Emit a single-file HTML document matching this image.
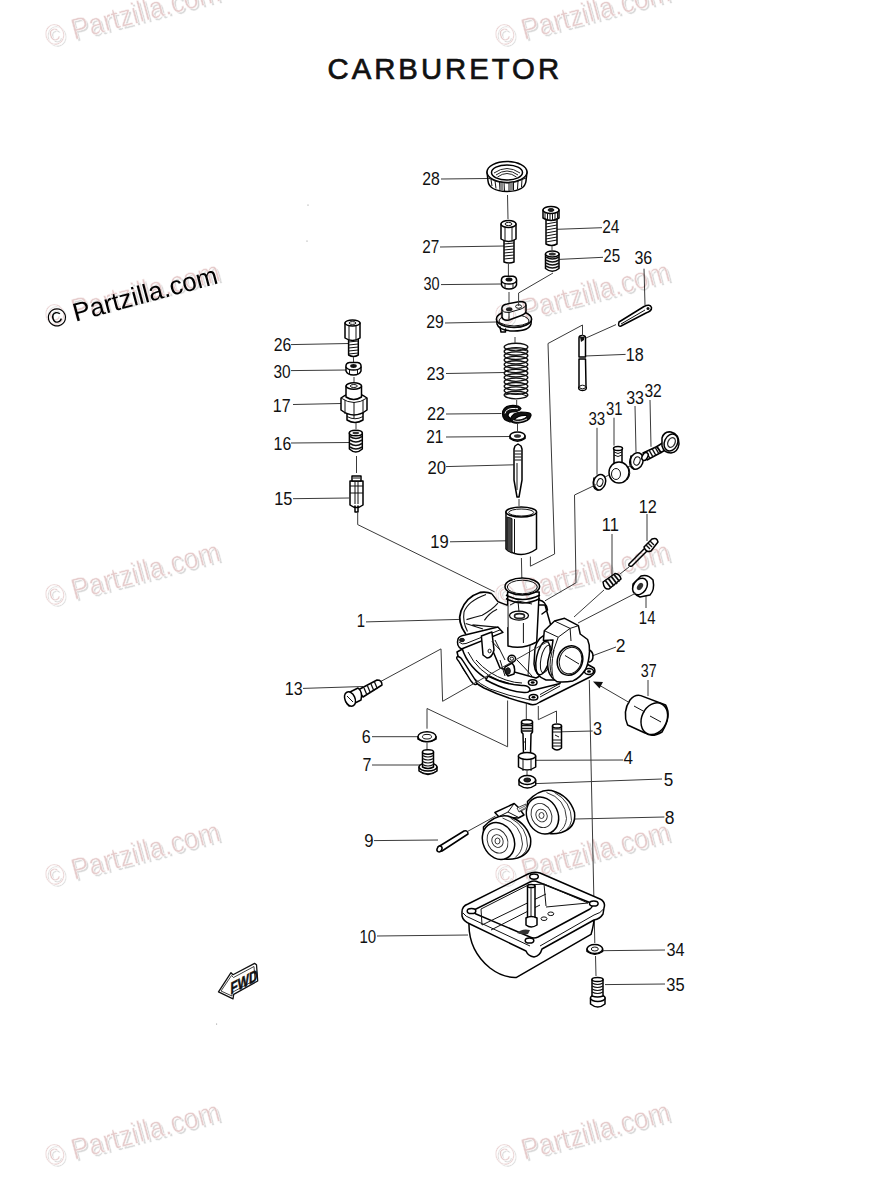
<!DOCTYPE html>
<html><head><meta charset="utf-8">
<style>
html,body{margin:0;padding:0;background:#fff;}
body{width:869px;height:1200px;overflow:hidden;position:relative;}
svg{position:absolute;left:0;top:0;}
.wm text{font-family:"Liberation Sans",sans-serif;font-size:26px;}
.lb{font-family:"Liberation Sans",sans-serif;font-size:17.5px;fill:#111;}
.ld{stroke:#3a3a3a;stroke-width:1;fill:none;}
.p{stroke:#000;stroke-width:1.5;fill:#fff;stroke-linejoin:round;stroke-linecap:round;}
.pn{stroke:#000;stroke-width:1.5;fill:none;stroke-linejoin:round;stroke-linecap:round;}
.th{stroke:#111;stroke-width:1;fill:none;}
.dk{fill:#222;stroke:#111;stroke-width:1;}
</style></head>
<body>
<svg width="869" height="1200" viewBox="0 0 869 1200">
<defs>
<g id="wmt">
<text x="1.8" y="2.6" fill="#dadada" stroke="#fff" stroke-width="0.45" font-family="Liberation Sans" font-size="30" transform="rotate(-15) scale(0.89,1)">© Partzilla.com</text>
<text x="0" y="0" fill="#e6cccc" stroke="#fff" stroke-width="0.45" font-family="Liberation Sans" font-size="30" transform="rotate(-15) scale(0.89,1)">© Partzilla.com</text>
</g>
</defs>
<!-- title -->
<text x="327.5" y="79.2" font-family="Liberation Sans" font-size="29.3" fill="#111" stroke="#111" stroke-width="0.7" letter-spacing="3">CARBURETOR</text>

<g id="labels" class="lb">
<text transform="translate(422.31,184.70) scale(0.904,1)">28</text>
<text transform="translate(422.23,253.30) scale(0.876,1)">27</text>
<text transform="translate(423.45,289.70) scale(0.829,1)">30</text>
<text transform="translate(426.21,328.30) scale(0.902,1)">29</text>
<text transform="translate(602.22,232.70) scale(0.886,1)">24</text>
<text transform="translate(603.24,261.70) scale(0.864,1)">25</text>
<text transform="translate(634.39,263.70) scale(0.916,1)">36</text>
<text transform="translate(625.77,360.50) scale(0.922,1)">18</text>
<text transform="translate(588.42,425.00) scale(0.866,1)">33</text>
<text transform="translate(606.04,414.90) scale(0.848,1)">31</text>
<text transform="translate(626.19,403.50) scale(0.916,1)">33</text>
<text transform="translate(644.41,396.70) scale(0.894,1)">32</text>
<text transform="translate(273.71,350.70) scale(0.905,1)">26</text>
<text transform="translate(273.41,378.40) scale(0.884,1)">30</text>
<text transform="translate(272.78,411.70) scale(0.917,1)">17</text>
<text transform="translate(273.59,449.60) scale(0.911,1)">16</text>
<text transform="translate(274.25,505.30) scale(0.938,1)">15</text>
<text transform="translate(427.57,474.20) scale(0.951,1)">20</text>
<text transform="translate(430.34,548.40) scale(0.949,1)">19</text>
<text transform="translate(426.48,380.00) scale(0.938,1)">23</text>
<text transform="translate(426.88,419.90) scale(0.933,1)">22</text>
<text transform="translate(426.23,442.50) scale(0.881,1)">21</text>
<text transform="translate(638.77,512.90) scale(0.928,1)">12</text>
<text transform="translate(601.75,531.30) scale(0.940,1)">11</text>
<text transform="translate(638.87,623.70) scale(0.852,1)">14</text>
<text transform="translate(615.83,651.70) scale(1.000,1)">2</text>
<text transform="translate(640.86,676.50) scale(0.816,1)">37</text>
<text transform="translate(284.77,694.70) scale(0.923,1)">13</text>
<text transform="translate(361.78,743.30) scale(0.919,1)">6</text>
<text transform="translate(362.58,770.70) scale(0.919,1)">7</text>
<text transform="translate(592.98,734.90) scale(0.930,1)">3</text>
<text transform="translate(623.41,764.30) scale(0.977,1)">4</text>
<text transform="translate(663.72,785.60) scale(0.979,1)">5</text>
<text transform="translate(664.65,823.60) scale(0.999,1)">8</text>
<text transform="translate(364.21,847.00) scale(0.954,1)">9</text>
<text transform="translate(359.46,943.00) scale(0.861,1)">10</text>
<text transform="translate(666.38,956.20) scale(0.930,1)">34</text>
<text transform="translate(666.37,990.50) scale(0.942,1)">35</text>
<text transform="translate(356.67,627.30) scale(0.850,1)">1</text>

</g>
<g id="leaders" class="ld">
<line x1="441" y1="179" x2="487" y2="178.5"/>
<line x1="440" y1="247" x2="504" y2="246"/>
<line x1="441" y1="284.6" x2="501" y2="284"/>
<line x1="445" y1="323" x2="496" y2="322"/>
<line x1="557" y1="229.3" x2="602" y2="227.7"/>
<line x1="559" y1="259.4" x2="603" y2="257.3"/>
<line x1="644" y1="268.7" x2="645" y2="305"/>
<line x1="585" y1="356" x2="625.6" y2="354.4"/>
<line x1="597" y1="427.8" x2="597" y2="474.7"/>
<line x1="614" y1="417.7" x2="614" y2="445.6"/>
<line x1="635" y1="406" x2="636" y2="452"/>
<line x1="650" y1="400" x2="651" y2="446.8"/>
<line x1="291" y1="344.6" x2="348.6" y2="343.5"/>
<line x1="291" y1="370.6" x2="346" y2="370"/>
<line x1="293" y1="404.5" x2="341" y2="403.5"/>
<line x1="291" y1="443" x2="349" y2="442.5"/>
<line x1="293" y1="498.7" x2="349" y2="498"/>
<line x1="446" y1="466.6" x2="513.7" y2="464.8"/>
<line x1="450" y1="541.8" x2="505.8" y2="540.8"/>
<line x1="446" y1="373.5" x2="504.6" y2="372.5"/>
<line x1="446" y1="414" x2="501.4" y2="413.5"/>
<line x1="446" y1="437" x2="510" y2="436.5"/>
<line x1="647" y1="514" x2="647" y2="541"/>
<line x1="612" y1="534" x2="612" y2="575"/>
<line x1="646" y1="608" x2="646" y2="596"/>
<line x1="616" y1="647" x2="592" y2="656"/>
<line x1="648" y1="680" x2="648" y2="696"/>
<line x1="303" y1="688.4" x2="363" y2="686.5"/>
<line x1="372" y1="736.7" x2="418" y2="736.7"/>
<line x1="372" y1="765" x2="420" y2="765"/>
<line x1="560.8" y1="731.8" x2="592.7" y2="731"/>
<line x1="535.7" y1="760.3" x2="623" y2="760"/>
<line x1="535.7" y1="783.6" x2="662" y2="779"/>
<line x1="575" y1="819" x2="664.4" y2="817"/>
<line x1="374" y1="840.6" x2="438" y2="840"/>
<line x1="377" y1="936" x2="468" y2="935"/>
<line x1="601.8" y1="950.7" x2="665" y2="950"/>
<line x1="605" y1="984.6" x2="665" y2="984"/>
<line x1="366" y1="621.9" x2="460" y2="619.4"/>
</g>
<g id="parts">
<!-- 01_top.svg -->
<!-- 28 ring nut -->
<g>
<path class="p" d="M487,172 L488,181 Q489,191 507,191.5 Q525,191 526,181 L527,172 Z"/>
<ellipse class="p" cx="507" cy="172" rx="20" ry="10.5"/>
<ellipse class="pn" cx="507" cy="172.5" rx="15.5" ry="7.5"/>
<path d="M494,173 Q507,164 520,173 M496,175 Q507,167 518,175 M497.5,177 Q507,170 516.5,177" stroke="#222" stroke-width="1" fill="none"/>
<path class="th" d="M488,178 Q507,188 526,178"/>
<path class="th" d="M491,179.5 L492,186 M495,181 L496,188.5 M499.5,182 L500,190 M504,182.5 L504.5,191 M509,182.5 L509,191 M513.5,182 L513.5,190 M518,181 L517.5,189 M522,179.5 L521.5,187"/>
<path d="M500,183 L503,183 L503.5,191 L500,190 Z M510,183 L513,182.5 L513,190.5 L510,191 Z" fill="#888"/>
</g>
<line class="ld" x1="507.5" y1="195" x2="508" y2="219"/>
<!-- 27 -->
<g>
<path class="p" d="M504,240 L504,262 Q509,264 514,262 L514,240 Z"/>
<path class="th" d="M504,244 L514,243 M504,247 L514,246 M504,250 L514,249 M504,253 L514,252 M504,256 L514,255 M504,259 L514,258"/>
<path class="p" d="M501,224 L501,239 Q508.5,244 516,239 L516,224 Z"/>
<ellipse class="p" cx="508.5" cy="224" rx="7.5" ry="3.5"/>
<ellipse class="th" cx="508.5" cy="224" rx="3.5" ry="1.6"/>
<path class="th" d="M505,226.5 L505,241.5 M512,226.5 L512,241.5"/>
</g>
<line class="ld" x1="508.4" y1="264" x2="508.4" y2="277"/>
<!-- 30a nut -->
<g>
<path class="p" d="M501.5,281 L501.5,285 Q503,289 509,289 Q515,289 516.5,285 L516.5,281 Z"/>
<path class="p" d="M501.5,281 Q501,277 505,276.2 L513,276.2 Q517,277 516.5,281 Q515,284 509,284 Q503,284 501.5,281 Z"/>
<ellipse cx="509" cy="279.5" rx="3.5" ry="2" fill="#111"/>
<path class="th" d="M505,284 L505,289 M513,284 L513,289"/>
</g>
<line class="ld" x1="509" y1="292" x2="509" y2="308"/>
<!-- 29 -->
<g>
<path class="p" d="M496.5,319 L497,324 Q499,331 514,331 Q529,331 531,324 L531.5,319 Z"/>
<path class="pn" d="M500,327 L501,332 L505.5,332 L505.5,329"/>
<ellipse class="p" cx="514" cy="319" rx="17.5" ry="8.5"/>
<ellipse class="th" cx="514" cy="321" rx="15" ry="6.3"/>
<path class="th" d="M497.5,322 Q514,330 530.5,322"/>
<path class="p" d="M502,310 Q501,305 507,304 L520,301.5 Q526,301.5 526,305 L526,311 Q526,314 520,316 L509,320 Q503,321 502,317 Z"/>
<path class="th" d="M502,310 Q504,313 509,312.5 L521,309 Q526,307 526,305 M509,312.5 L509,320"/>
<ellipse cx="509.2" cy="309.3" rx="3.2" ry="2" fill="#222"/>
<ellipse class="th" cx="518.6" cy="306.5" rx="3" ry="1.8"/>
</g>
<polyline class="ld" points="518.6,306 518.6,293 553,273"/>
<!-- 24 bolt -->
<g>
<path class="p" d="M546,219 L546,244 Q551.5,247 557,244 L557,219 Z"/>
<path class="th" d="M546,224 L557,222 M546,227 L557,225 M546,230 L557,228 M546,233 L557,231 M546,236 L557,234 M546,239 L557,237 M546,242 L557,240"/>
<path class="p" d="M543,210 L543,218 Q551,223 559,218 L559,210 Z"/>
<ellipse class="p" cx="551" cy="210" rx="8" ry="3.5"/>
<ellipse class="dk" cx="551" cy="210" rx="3" ry="1.4"/>
<path class="th" d="M545,212 L545,219.5 M547.5,213 L547.5,220.5 M550,213.5 L550,221 M552.5,213.5 L552.5,221 M555,213 L555,220.5 M557.5,212 L557.5,219.5"/>
</g>
<line class="ld" x1="552" y1="246" x2="552" y2="250"/>
<!-- 25 spring -->
<g>
<path class="p" d="M545.5,254 L545.5,268.5 Q552.3,274 559,268.5 L559,254 Z"/>
<ellipse class="p" cx="552.3" cy="254" rx="6.8" ry="3"/>
<path d="M546,257 Q552.3,261 559,257 M546,260 Q552.3,264 559,260 M546,263 Q552.3,267 559,263 M546,266 Q552.3,270 559,266" stroke="#111" stroke-width="1.6" fill="none"/>
<ellipse cx="552.3" cy="254" rx="3.5" ry="1.5" fill="#333"/>
</g>

<!-- 02_mid.svg -->
<!-- 36 cotter pin -->
<g>
<path class="p" d="M619,322 L644,306.5 Q650,303.5 651.5,307.5 Q652,311 646,313 L621,326 Q617.5,327 619,322 Z"/>
<path class="th" d="M621,324 L645,310"/>
<circle cx="648" cy="308.5" r="1.5" fill="#111"/>
</g>
<line class="ld" x1="616" y1="324.6" x2="586" y2="338"/>
<!-- 18 pin -->
<g>
<path class="p" d="M579,338 Q579,335.5 582.3,335.5 Q585.5,335.5 585.5,338 L585.5,357 L579,357 Z"/>
<path class="p" d="M579,359 L585.5,359 L586,386 Q587.5,390.5 582.5,390.5 Q577.5,390.5 579,386 Z"/>
<path d="M580,337 L584.5,337 L584,340 L581,342 Z" fill="#111"/>
<ellipse class="th" cx="582.5" cy="387" rx="3" ry="1.8"/>
</g>
<polyline class="ld" points="582.5,336 582.5,325 548,343.5 554.6,554 530.4,566.2 530.4,556.6"/>
<!-- 23 spring -->
<g>
<path d="M504.5,347 L504.5,395 Q516,402 527.5,395 L527.5,347 Z" fill="#fff"/>
<ellipse cx="516" cy="347.0" rx="11.8" ry="3.8" fill="none" stroke="#111" stroke-width="1.35"/>
<ellipse cx="516" cy="351.4" rx="11.8" ry="3.8" fill="none" stroke="#111" stroke-width="1.35"/>
<ellipse cx="516" cy="355.7" rx="11.8" ry="3.8" fill="none" stroke="#111" stroke-width="1.35"/>
<ellipse cx="516" cy="360.1" rx="11.8" ry="3.8" fill="none" stroke="#111" stroke-width="1.35"/>
<ellipse cx="516" cy="364.5" rx="11.8" ry="3.8" fill="none" stroke="#111" stroke-width="1.35"/>
<ellipse cx="516" cy="368.8" rx="11.8" ry="3.8" fill="none" stroke="#111" stroke-width="1.35"/>
<ellipse cx="516" cy="373.2" rx="11.8" ry="3.8" fill="none" stroke="#111" stroke-width="1.35"/>
<ellipse cx="516" cy="377.5" rx="11.8" ry="3.8" fill="none" stroke="#111" stroke-width="1.35"/>
<ellipse cx="516" cy="381.9" rx="11.8" ry="3.8" fill="none" stroke="#111" stroke-width="1.35"/>
<ellipse cx="516" cy="386.3" rx="11.8" ry="3.8" fill="none" stroke="#111" stroke-width="1.35"/>
<ellipse cx="516" cy="390.6" rx="11.8" ry="3.8" fill="none" stroke="#111" stroke-width="1.35"/>
<ellipse cx="516" cy="395.0" rx="11.8" ry="3.8" fill="none" stroke="#111" stroke-width="1.35"/>
<path d="M505,350 Q516,347 527,351 M505,395 Q516,391 527,396" stroke="#111" stroke-width="1" fill="none"/>
</g>
<line class="ld" x1="515" y1="337" x2="515" y2="343"/>
<line class="ld" x1="516.7" y1="400" x2="516.7" y2="405"/>
<!-- 22 clip -->
<g>
<path d="M502.5,414 Q502.5,406.5 511,405.5 Q519,405 521,408.5 Q519,412 512,412 Q508,412.5 508,415.5 Q509,418.5 513.5,419.5 L511.5,422 Q502.5,421 502.5,414 Z" fill="#111" stroke="#000" stroke-width="1.2" stroke-linejoin="round"/>
<path d="M505,413.5 Q506,409 512,408.5 Q516,408.3 518,408.8" stroke="#fff" stroke-width="1" fill="none"/>
<path d="M510.5,419 Q512.5,412.5 521,412 Q531.5,412 531,415.5 Q529.5,421.5 519,423 Q510.5,424 510.5,419 Z M514.5,419.5 Q519,421 524.5,418.5 Q528,416.5 526.5,415.5 Q518,415 514.5,419.5 Z" fill="#111" fill-rule="evenodd" stroke="#000" stroke-width="1.2"/>
<path d="M513,420.5 Q519,423 527,419" stroke="#fff" stroke-width="0.8" fill="none"/>
</g>
<line class="ld" x1="517.5" y1="424" x2="517.5" y2="431"/>
<!-- 21 washer -->
<g>
<path class="p" d="M510,436 L510,438.5 Q517.5,444 525,438.5 L525,436 Z"/>
<ellipse class="p" cx="517.5" cy="436" rx="7.5" ry="4"/>
<ellipse cx="517.5" cy="436" rx="3.5" ry="1.8" fill="#333"/>
</g>
<!-- 20 needle -->
<g>
<path class="p" d="M514,449 L515,446 L518,444 L521,446 L522,449 L522,480 L519,497 L517,497 L514,480 Z"/>
<path class="th" d="M514.5,451 L521.5,451 M514.5,454 L521.5,454 M514.5,457 L521.5,457 M514.5,460 L521.5,460"/>
<path class="th" d="M517,463 L517,490"/>
</g>
<line class="ld" x1="519" y1="499" x2="519" y2="506"/>
<!-- 19 slide -->
<g>
<path class="p" d="M506,512 L506,549 Q521,560 536.5,549 L536.5,512 Z"/>
<ellipse class="p" cx="521.2" cy="512" rx="15.3" ry="5"/>
<ellipse class="th" cx="521.2" cy="512.5" rx="12.5" ry="3.5"/>
<path d="M507,517 L512,518.5 L512,553 L507,550.5 Z" fill="#444" stroke="#111" stroke-width="1"/>
<path class="th" d="M514.5,519 L514.5,554"/>
</g>
<line class="ld" x1="521.4" y1="558" x2="522" y2="586"/>

<!-- 03_left.svg -->
<!-- 26 -->
<g>
<path class="p" d="M348.6,338 L348.6,355 Q353.5,358 358.3,355 L358.3,338 Z"/>
<path class="th" d="M348.6,342 L358.3,341 M348.6,345 L358.3,344 M348.6,348 L358.3,347 M348.6,351 L358.3,350 M348.6,354 L358.3,353"/>
<path class="p" d="M345,323 L345,338 Q352.5,343 360,338 L360,323 Z"/>
<ellipse class="p" cx="352.5" cy="323" rx="7.5" ry="3"/>
<ellipse class="th" cx="352.5" cy="323" rx="3.5" ry="1.4"/>
<path class="th" d="M349,325.5 L349,340.5 M356,325.5 L356,340.5"/>
</g>
<line class="ld" x1="353.4" y1="357" x2="353.6" y2="362"/>
<!-- 30b nut -->
<g>
<path class="p" d="M346,367 L346,371 Q347.5,375 353.5,375 Q359.5,375 361,371 L361,367 Z"/>
<path class="p" d="M346,367 Q345.5,363 349.5,362.5 L357.5,362.5 Q361.5,363 361,367 Q359.5,370 353.5,370 Q347.5,370 346,367 Z"/>
<ellipse cx="353.5" cy="366" rx="3.3" ry="1.9" fill="#111"/>
<path class="th" d="M349.5,370 L349.5,375 M357.5,370 L357.5,375"/>
</g>
<line class="ld" x1="354" y1="377" x2="354" y2="382"/>
<!-- 17 -->
<g>
<path class="p" d="M347,413 L347,420 Q355,425 363,420 L363,413 Z"/>
<path class="th" d="M347,416.5 Q355,421 363,416.5"/>
<path class="p" d="M341,398 L341,410 Q354,420 367,410 L367,398 Q354,388 341,398 Z"/>
<path class="th" d="M345,400 L345,414 M354,402 L354,418 M363,400 L363,414 M341,398 Q354,407 367,398"/>
<path class="p" d="M346,386 L346,397 Q353.8,402 361.5,397 L361.5,386 Z"/>
<ellipse class="p" cx="353.8" cy="386" rx="7.7" ry="3.2"/>
<ellipse class="th" cx="353.8" cy="386" rx="3.5" ry="1.5"/>
</g>
<line class="ld" x1="356" y1="423" x2="356" y2="429"/>
<!-- 16 spring -->
<g>
<path class="p" d="M349.4,433 L349.4,449 Q355.8,455 362.3,449 L362.3,433 Z"/>
<ellipse class="p" cx="355.8" cy="433" rx="6.5" ry="2.8"/>
<path d="M350,436.5 Q355.8,440.5 362,436.5 M350,440 Q355.8,444 362,440 M350,443.5 Q355.8,447.5 362,443.5 M350,447 Q355.8,451 362,447" stroke="#111" stroke-width="1.6" fill="none"/>
<ellipse cx="355.8" cy="433" rx="3.3" ry="1.3" fill="#333"/>
</g>
<line class="ld" x1="356.5" y1="456" x2="356.5" y2="473"/>
<!-- 15 float needle -->
<g>
<path class="p" d="M350,481 L350,505 Q356.5,510 363,505 L363,481 Z"/>
<path class="p" d="M352,476 L352,481 L361,481 L361,476 Z"/>
<path class="th" d="M353,478 L360,478 M350,486 L363,486 M350,493 L363,493 M355,482 L355,504 M358,482 L358,504"/>
<path class="pn" d="M355,506 L355,512 L358,512 L358,506"/>
</g>
<polyline class="ld" points="357.7,513 357.7,524.6 494.7,591.9"/>

<!-- 04_right.svg -->
<!-- 33a washer -->
<g>
<ellipse class="p" cx="599.5" cy="482.3" rx="6" ry="8" transform="rotate(20 599.5 482.3)"/>
<ellipse class="th" cx="600" cy="482.5" rx="2.8" ry="4" transform="rotate(20 600 482.5)"/>
<path class="pn" d="M594,478 Q592,486 598,490" stroke-width="2"/>
</g>
<polyline class="ld" points="596,484.7 574.5,495 576,582.8 545,600.8"/>
<!-- 31 banjo -->
<g>
<path class="p" d="M614,449 L614,463 Q618,468 622,463 L622,449 Z"/>
<path class="th" d="M614,452 Q618,455 622,452 M614,455 Q618,458 622,455"/>
<ellipse class="p" cx="618" cy="448.5" rx="4.5" ry="2"/>
<ellipse class="p" cx="619" cy="472.5" rx="10" ry="10.5"/>
<ellipse class="th" cx="616" cy="474" rx="4.5" ry="5.5"/>
<path class="th" d="M628,466 Q632,474 627,480"/>
</g>
<line class="ld" x1="605" y1="477" x2="609" y2="475"/>
<!-- 33b washer -->
<g>
<ellipse class="p" cx="636.5" cy="461" rx="6.5" ry="8.5" transform="rotate(20 636.5 461)"/>
<ellipse class="th" cx="637" cy="461" rx="3" ry="4.2" transform="rotate(20 637 461)"/>
<path class="pn" d="M631,456 Q629,465 634,469" stroke-width="2"/>
</g>
<line class="ld" x1="628" y1="467" x2="632" y2="465"/>
<!-- 32 bolt -->
<g>
<path class="p" d="M643,453 L657,446.5 L661,452.5 L647,460 Z"/>
<path d="M646,451.5 L650,458.5 M649,450 L653,457 M652,448.5 L656,455.5 M655,447 L659,454" stroke="#111" stroke-width="1.5"/>
<ellipse class="p" cx="645" cy="456.5" rx="2.6" ry="4.2" transform="rotate(30 645 456.5)"/>
<path class="p" d="M657,446.5 L664,442 L667,449 L661,452.5 Z"/>
<path class="p" d="M662,438 Q664,431 671,432 Q679,434 679,444 Q678,452 671,453 Q664,453 662,446 Z"/>
<ellipse class="p" cx="671" cy="442.5" rx="6.5" ry="8.8" transform="rotate(25 671 442.5)"/>
<ellipse cx="671.5" cy="442.5" rx="3.5" ry="5" transform="rotate(25 671.5 442.5)" fill="none" stroke="#333" stroke-width="1.4"/>
</g>
<!-- 12 screw -->
<g>
<path class="p" d="M629,564 L645,548 L648,550 L632,566 Q628,567 629,564 Z"/>
<path class="p" d="M644,547 L652,539 Q657,537 658,542 L651,551 Q646,553 644,547 Z"/>
<path d="M646,545 L650,549 M648,543 L652,547 M650,541 L654,545" stroke="#111" stroke-width="1.4"/>
</g>
<line class="ld" x1="629" y1="567" x2="620" y2="574"/>
<!-- 11 spring -->
<g>
<path class="p" d="M603,582 L615,573.5 Q620,574 621,579 L609,589 Q604,590 603,582 Z"/>
<path d="M605,580 L611,588 M608,578 L614,586 M611,576 L617,584 M614,574.5 L619.5,581.5" stroke="#111" stroke-width="1.8"/>
</g>
<line class="ld" x1="604" y1="590" x2="574" y2="617"/>
<!-- 14 cap -->
<g>
<path class="p" d="M633,584 Q632,594 640,597 L650,595 Q655,590 653,580 Q648,574 641,576 Z"/>
<ellipse class="p" cx="640" cy="586.5" rx="6.5" ry="9" transform="rotate(35 640 586.5)"/>
<ellipse cx="640" cy="586.5" rx="2.5" ry="4" transform="rotate(35 640 586.5)" fill="#333"/>
</g>
<line class="ld" x1="636" y1="593" x2="578" y2="623"/>
<!-- 37 -->
<g>
<path class="p" d="M640.8,695.6 L665.6,705 Q672,716 662,732 Q652,738 645,733 L627.6,725 Q622,712 630,700 Q635,694 640.8,695.6 Z"/>
<ellipse class="p" cx="654.3" cy="718.7" rx="12.5" ry="16.5" transform="rotate(25 654.3 718.7)"/>
<path class="th" d="M634,706 L645,712 M650,716 L661,722"/>
</g>
<line class="ld" x1="629.7" y1="702.8" x2="600" y2="685.6"/>
<path d="M593,681.4 L603,682 L599.5,688.5 Z" fill="#111"/>

<!-- 05_body.svg -->
<!-- carb body -->
<g>
<!-- flange plate -->
<path class="p" d="M457,652 Q462,676 484,688 Q505,698 528,703.5 Q534,706.5 540,702 L590,677 Q597,673 594,668 L585,663 L570,640 L540,628 L470,645 Z"/>
<path class="th" d="M462,660 Q470,680 490,689 Q508,696 530,700 M540,697 L560,686"/>
<path d="M458.5,661 Q455,657 458,656.5 Q461,657 463,661 L476,681 Q478,685 475,684.5 Q473,684 471,681 Z" fill="#fff" stroke="#000" stroke-width="1.4"/>
<ellipse class="p" cx="533.5" cy="697.3" rx="4.3" ry="2.8"/>
<ellipse cx="533.5" cy="697.3" rx="2" ry="1.3" fill="#000"/>
<ellipse class="p" cx="589" cy="671.5" rx="4.5" ry="3"/>
<ellipse cx="589" cy="671.5" rx="2" ry="1.3" fill="#000"/>
<!-- float chamber dome -->
<path class="p" d="M462,648 Q468,668 490,681 Q510,690 526,692 L560,683.5 L565,640 L530,620 L470,640 Z"/>
<path class="th" d="M468,652 Q478,672 498,680 Q512,685 524,686 M476,660 Q488,674 506,680 Q515,683 522,683"/>
<path class="p" d="M488,676 Q506,685 522,685.5 Q528,685 530,689 Q530,693 524,692.5 Q506,691 486,680 Z"/>
<ellipse class="p" cx="532.7" cy="682.5" rx="4.3" ry="2.8"/>
<ellipse cx="532.7" cy="682.5" rx="2" ry="1.3" fill="#000"/>
<path class="th" d="M540,694.6 L560,683.5"/>
<!-- mixing body center -->
<path class="p" d="M485,632 L507,605 L545,605 L555,640 L548,672 L536,678 L500,668 Z"/>
<path class="th" d="M495,640 L505,660 M530,645 L528,676 M517,660 Q525,668 532,676 M540,655 L541,672 M500,660 L505,676"/>
<!-- bosses -->
<ellipse class="p" cx="511.8" cy="658.7" rx="3.8" ry="3.5"/>
<ellipse class="th" cx="511.8" cy="658.7" rx="1.8" ry="1.6"/>
<path class="p" d="M505,667 L512,663 Q516,667 514,674 L508,676 Q504,672 505,667 Z"/>
<ellipse class="dk" cx="508" cy="671" rx="2.3" ry="3.3"/>
<!-- slide bore cylinder -->
<path class="p" d="M507.6,592 L508,646 Q522,650 536.7,642 L539.2,592 Z"/>
<path d="M506,595 Q522,604 540,595 M506,598.5 Q522,607.5 540,598.5" stroke="#000" stroke-width="1.5" fill="none"/>
<ellipse class="p" cx="522.3" cy="586.5" rx="17.3" ry="8.5"/>
<ellipse class="th" cx="522.3" cy="587" rx="15" ry="6.8"/>
<path class="th" d="M523.4,623 L523.4,643"/>
<ellipse cx="519" cy="615.6" rx="9.5" ry="4.5" fill="none" stroke="#000" stroke-width="1.3"/>
<ellipse cx="519.5" cy="616" rx="5" ry="2.4" fill="none" stroke="#222" stroke-width="1.6"/>
<path class="th" d="M510,605 L518,601 L532,604 M518,601 L519,612"/>
<path class="pn" d="M539,600 Q546,601 547.5,610 L542,614"/>
<!-- bell mouth -->
<path d="M465.7,634 Q457,622 461,611 Q466,597 480,592.5 Q487,591.5 491.9,593.8 L497.9,601.7 L507.6,605.4 L507.6,627 L497,632 L483,634 Z" fill="#fff" stroke="none"/>
<path d="M465.7,634 Q457,622 461,611 Q466,597 480,592.5 Q487,591.5 491.9,593.8" stroke="#000" stroke-width="1.8" fill="none"/>
<path d="M491.9,593.8 L497.9,601.7 L507.6,605.4" stroke="#000" stroke-width="1.4" fill="none"/>
<path d="M467.5,631.5 Q462.5,622 464,612 Q468,601 486,594.5" stroke="#111" stroke-width="1.1" fill="none"/>
<path d="M466.5,619.6 Q475,617 482.2,615.2 Q492,610 497.9,603.2 M484.4,620.4 Q489,613 497.1,609.2 M465.7,623.4 Q474,626 483,629 M472.4,624.9 L496.4,627.1" stroke="#111" stroke-width="1.1" fill="none"/>
<!-- left ear -->
<path class="p" d="M458,639 Q456,646 461.5,649 L503,632.4 L497.9,627.1 L465,635 Q459,636 458,639 Z"/>
<path class="th" d="M459,642 Q462,645 466,643.5 L501,629.5"/>
<ellipse class="dk" cx="462" cy="640" rx="2.4" ry="1.7"/>
<!-- ear support post -->
<path class="p" d="M481.4,636 L491.9,632 L494,650 Q492,658 487,658 L483,655 Z"/>
<path class="th" d="M491.9,641.3 L500,650"/>
<ellipse class="th" cx="489.6" cy="651" rx="1.6" ry="1.8"/>
<!-- throttle pipe -->
<path class="p" d="M535,648 Q538,636 548,634 L560,636 L556,680 L546,680 Q535,676 534,664 Z"/>
<ellipse class="pn" cx="543" cy="658" rx="6.5" ry="17" transform="rotate(12 543 658)"/>
<ellipse class="th" cx="546" cy="659" rx="5" ry="14" transform="rotate(12 546 659)"/>
<!-- clamp -->
<path class="p" d="M544.3,630.7 L554.5,621 L564.6,618.3 L578.4,625.7 L580.2,634 L587.6,639.5 Q590,645 589.5,651.4 Q589,662 585.8,669 Q580,678 572.9,680.9 Q565,682.5 557.2,681.8 Q551,678 549,672.6 Q547,665 548,660.6 Q549,654 551.7,649.6 L553,640 L543.4,640.4 Z"/>
<path class="th" d="M544.3,630.7 L558.2,637.2 L570.1,628.4 M558.2,637.2 L553,652 M554.5,621 L570.1,628.4 L571,641 M570.1,628.4 L578.4,625.7"/>
<path class="th" d="M552,676 Q548,665 552,652 M553.5,679 Q550,668 554,650"/>
<ellipse class="p" cx="570" cy="660.5" rx="12.5" ry="15" transform="rotate(20 570 660.5)"/>
<ellipse class="th" cx="570.5" cy="660.5" rx="11" ry="13.5" transform="rotate(20 570.5 660.5)"/>
<line class="th" x1="565" y1="655.5" x2="579" y2="664" stroke-width="1.4"/>
<path class="pn" d="M589.5,650 Q593,652 593,656 Q593,661 589.5,662"/>
</g>
<!-- lines through body -->
<line class="ld" x1="442.6" y1="701.3" x2="550.5" y2="640"/>
<polyline class="ld" points="380.7,681.5 441,648.9 442.6,701.3"/>
<polyline class="ld" points="427,728.7 427,708.5 507.6,746.8 507.6,700.5"/>
<polyline class="ld" points="538.3,706 538.3,719.7 556.5,711 556.5,723"/>
<line class="ld" x1="526.3" y1="704" x2="526.3" y2="719"/>
<line class="ld" x1="589.3" y1="680" x2="594.8" y2="943"/>

<!-- 06_lower.svg -->
<!-- 13 screw -->
<g>
<path class="p" d="M358,690 L377,680 Q382,680 382,685 L363,697 Z"/>
<path d="M364,688 L367,695 M367.5,686 L370.5,693 M371,684 L374,691 M374.5,682 L377.5,689" stroke="#111" stroke-width="1.3"/>
<path class="p" d="M346,694 Q344,702 349,706 L361,700 Q363,692 358,688 Z"/>
<ellipse class="p" cx="350" cy="699" rx="5" ry="7.5" transform="rotate(-25 350 699)"/>
<line class="th" x1="347" y1="696" x2="353" y2="702"/>
</g>
<!-- 6 washer -->
<g>
<path class="p" d="M418,736.7 L418,739 Q427,744 436,739 L436,736.7 Z"/>
<ellipse class="p" cx="427" cy="736.7" rx="9" ry="5"/>
<ellipse class="th" cx="427" cy="736.7" rx="4.5" ry="2.3"/>
</g>
<line class="ld" x1="427" y1="743" x2="427" y2="750"/>
<!-- 7 screw -->
<g>
<path class="p" d="M419,767 L419,771 Q428,778 437,771 L437,767 Z"/>
<ellipse class="p" cx="428" cy="767" rx="9" ry="4"/>
<path class="th" d="M420,771.5 Q428,776 436,771.5"/>
<path class="p" d="M422.5,752 L422.5,767 Q428,770 433.5,767 L433.5,752 Z"/>
<ellipse class="p" cx="428" cy="752" rx="5.5" ry="2.2"/>
<path d="M422.5,755.5 Q428,758.5 433.5,755.5 M422.5,758.5 Q428,761.5 433.5,758.5 M422.5,761.5 Q428,764.5 433.5,761.5 M422.5,764.5 Q428,767.5 433.5,764.5" stroke="#111" stroke-width="1.2" fill="none"/>
</g>
<!-- 3 pilot jet -->
<g>
<path class="p" d="M552.5,726 L552.5,748 Q557,752 561.5,748 L561.5,726 Z"/>
<ellipse class="p" cx="557" cy="726" rx="4.5" ry="2"/>
<path class="th" d="M553,729 L561,729 M553,732 L561,732 M553,740 L561,740 M553,743 L561,743 M553,746 L561,746 M555,735 L559,737"/>
</g>
<!-- 4 -->
<g>
<path class="p" d="M521.5,722 L521.5,732 L523,734 L523.5,754 L530.5,754 L531,734 L532.5,732 L532.5,722 Z"/>
<ellipse class="p" cx="527" cy="722" rx="5.5" ry="2.3"/>
<path d="M521.5,725.5 L532.5,725.5 M521.5,728.5 L532.5,728.5 M521.5,731 L532.5,731" stroke="#111" stroke-width="1.3"/>
<path class="th" d="M525.5,738 L525.5,750"/>
<circle cx="525" cy="742" r="0.8" fill="#111"/>
<path class="p" d="M518.5,756 L518.5,767 Q527,773 535.7,767 L535.7,756 Z"/>
<ellipse class="p" cx="527" cy="756" rx="8.6" ry="3.5"/>
<path class="th" d="M523,758.5 L523,771 M531,758.5 L531,771"/>
</g>
<line class="ld" x1="527" y1="771" x2="527" y2="776"/>
<!-- 5 nut -->
<g>
<path class="p" d="M519,780 L519,785 Q527.3,791 535.7,785 L535.7,780 Z"/>
<ellipse class="p" cx="527.3" cy="780" rx="8.3" ry="4.5"/>
<ellipse class="dk" cx="527.3" cy="780" rx="3.5" ry="2"/>
</g>
<!-- 8 floats -->
<g>
<path class="p" d="M527.5,801.5 Q539.5,788.5 551.5,790.5 Q569.5,795.5 574.5,812.5 Q576.5,827.5 561.5,832.5 Q553.5,834.5 549.5,833.5 Q529.5,832.5 527.5,815.5 Z"/>
<path d="M546.5,792.5 Q565.5,798.5 566.5,818.5 Q565.5,827.5 559.5,831.5" stroke="#222" stroke-width="0.9" fill="none"/>
<path d="M554.5,792.5 Q571.5,801.5 571.5,820.5 Q570.5,826.5 566.5,829.5" stroke="#222" stroke-width="0.9" fill="none"/>
<ellipse class="p" cx="542.5" cy="815.5" rx="15.5" ry="19" transform="rotate(-25 542.5 815.5)"/>
<ellipse cx="541.5" cy="815.5" rx="10" ry="12.5" transform="rotate(-25 541.5 815.5)" stroke="#222" stroke-width="0.9" fill="none"/>
<ellipse cx="541.5" cy="815.5" rx="5.5" ry="6.5" transform="rotate(-25 541.5 815.5)" stroke="#222" stroke-width="0.9" fill="none"/>
<ellipse cx="541.5" cy="815.5" rx="2.5" ry="3" stroke="#222" stroke-width="0.9" fill="none"/>

<path class="p" d="M494.9,812.5 L514.2,803.5 L519,808 L524,815 L518.3,818 L499,817 Z"/>
<path class="th" d="M500,816 L508,812 L518.3,817.3 M508,812 L514.2,803.5"/>
<path d="M517,808 L526,804 L527,808 L519,812 Z" fill="#fff" stroke="#111" stroke-width="0.8"/>
<path d="M519,809 L526,805.5 M519.5,811 L526.5,807" stroke="#111" stroke-width="0.6"/>
<path class="p" d="M483.5,827 Q495.5,814 507.5,816 Q525.5,821 530.5,838 Q532.5,853 517.5,858 Q509.5,860 505.5,859 Q485.5,858 483.5,841 Z"/>
<path d="M502.5,818 Q521.5,824 522.5,844 Q521.5,853 515.5,857" stroke="#222" stroke-width="0.9" fill="none"/>
<path d="M510.5,818 Q527.5,827 527.5,846 Q526.5,852 522.5,855" stroke="#222" stroke-width="0.9" fill="none"/>
<ellipse class="p" cx="498.5" cy="841" rx="15.5" ry="19" transform="rotate(-25 498.5 841)"/>
<ellipse cx="497.5" cy="841" rx="10" ry="12.5" transform="rotate(-25 497.5 841)" stroke="#222" stroke-width="0.9" fill="none"/>
<ellipse cx="497.5" cy="841" rx="5.5" ry="6.5" transform="rotate(-25 497.5 841)" stroke="#222" stroke-width="0.9" fill="none"/>
<ellipse cx="497.5" cy="841" rx="2.5" ry="3" stroke="#222" stroke-width="0.9" fill="none"/>

</g>
<!-- 9 pin -->
<g>
<path class="p" d="M438,847 L464,831 Q468,830 468,834 L442,851 Q437,852 438,847 Z"/>
<ellipse class="p" cx="439.5" cy="849" rx="2.3" ry="3" transform="rotate(30 439.5 849)"/>
</g>
<line class="ld" x1="467.6" y1="831.4" x2="495.6" y2="816"/>
<!-- 10 bowl -->
<g>
<path class="p" d="M469,922 Q468,950 490,968 Q503,978 516.5,977.4 L591,934.4 Q594,925 594.8,912 L540,890 Z"/>
<path class="p" d="M462,912 Q462,906 468,904 L528,874 Q534,871 540,873 L600,899 Q606,902 604,908 L603,914 Q600,919 594,920 L542,949 Q540,956 534,957 Q528,956 526,951 L470,924 Q463,921 462,916 Z"/>
<path class="th" d="M463,913 Q466,917 470,918 L530,946 M540,946 L594,915 Q601,913 603.5,909"/>
<path class="pn" d="M474,910 L530,882 Q534,880 538,882 L591,903 Q594,906 590,909 L538,937 Q534,939 530,937 L476,914 Q471,912 474,910 Z"/>
<path class="th" d="M481,909 L528.3,885 L544,884 L588,903 M481,909 L482,925 M528.3,885 L530,897 M544,884 L546,906 M482,925 L546,894"/>
<path class="th" d="M491,930 L540,905 M546,907 L588,903"/>
<ellipse class="p" cx="471.5" cy="911" rx="4.3" ry="2.6"/>
<ellipse class="p" cx="534" cy="876.6" rx="4.3" ry="2.6"/>
<ellipse class="p" cx="593.8" cy="903.5" rx="4.3" ry="2.6"/>
<ellipse class="p" cx="529.5" cy="940.5" rx="4.3" ry="2.6"/>
<path class="p" d="M527.5,886 L527.5,920 L535,920 L535,886 Z"/>
<ellipse class="p" cx="531.2" cy="886" rx="3.7" ry="1.6"/>
<path class="th" d="M531,888 L531,918"/>
<path class="p" d="M526,918 L526,925 Q531,929 537,925 L537,918 Q531,915 526,918 Z"/>
<ellipse class="th" cx="550.8" cy="913.8" rx="3" ry="1.8"/>
<ellipse class="th" cx="544" cy="918.7" rx="3" ry="1.8"/>
<path d="M517,933 Q522,928 530,930 L528,934 Q522,935 517,933 Z" fill="#333"/>
</g>
<!-- 34 washer -->
<g>
<path class="p" d="M587,949 L587,951.5 Q594.8,957 602.6,951.5 L602.6,949 Z"/>
<ellipse class="p" cx="594.8" cy="949" rx="7.8" ry="4.5"/>
<ellipse class="th" cx="594.8" cy="949" rx="3.5" ry="2"/>
</g>
<line class="ld" x1="595.5" y1="956" x2="596" y2="976"/>
<!-- 35 screw -->
<g>
<path class="p" d="M590.5,998 L590.5,1004 Q597.8,1010 605,1004 L605,998 Z"/>
<ellipse class="p" cx="597.8" cy="998" rx="7.3" ry="3.5"/>
<path class="p" d="M592,979.5 L592,996 Q597.5,998 603,996 L603,979.5 Z"/>
<ellipse class="p" cx="597.5" cy="979.5" rx="5.5" ry="2"/>
<path d="M592,983 Q597.5,986 603,983 M592,986 Q597.5,989 603,986 M592,989 Q597.5,992 603,989 M592,992 Q597.5,995 603,992" stroke="#111" stroke-width="1.2" fill="none"/>
</g>
<!-- FWD -->
<g>
<path d="M218.5,991.9 L231,972.7 L233,974.8 L254.6,963.4 L256.5,964.7 L257.7,981 L233.7,994.4 L233,998.9 Z" fill="#fff" stroke="#111" stroke-width="1.3" stroke-linejoin="round"/>
<path d="M221,991 L231.5,975.5 L233.5,977.5 L254,966.5 L255,980 L232,992.5 L232,996 Z" fill="none" stroke="#111" stroke-width="0.8"/>
<text x="0" y="0" font-family="Liberation Sans" font-weight="bold" font-size="16.5" fill="#111" stroke="#111" stroke-width="0.5" transform="translate(230.5,994.5) skewY(-28) scale(0.72,1)">FWD</text>
</g>
<circle cx="216.6" cy="1024" r="0.6" fill="#888"/>
<circle cx="308" cy="205" r="0.6" fill="#888"/>
<circle cx="307" cy="241" r="0.6" fill="#888"/>


</g>
<!-- watermarks -->
<g class="wm" style="mix-blend-mode:multiply">
<use href="#wmt" x="48" y="47"/>
<use href="#wmt" x="498" y="47"/>
<use href="#wmt" x="48" y="327"/>
<use href="#wmt" x="498" y="327"/>
<use href="#wmt" x="48" y="607"/>
<use href="#wmt" x="498" y="607"/>
<use href="#wmt" x="48" y="887"/>
<use href="#wmt" x="498" y="887"/>
<use href="#wmt" x="48" y="1167"/>
<use href="#wmt" x="498" y="1167"/>
<text x="50" y="328.5" fill="#000" font-size="27.3" transform="rotate(-15 50 328.5)">© Partzilla.com</text>
</g>
</svg>
</body></html>
